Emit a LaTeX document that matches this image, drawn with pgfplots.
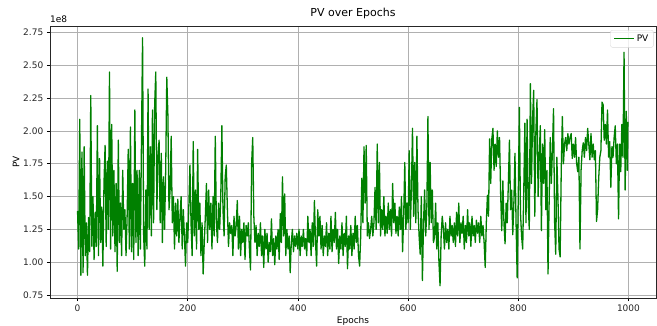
\documentclass[border=0pt]{standalone}
\usepackage{pgfplots}
\pgfplotsset{compat=1.18}
\usepackage{fontspec}
\setmainfont{DejaVu Sans}
\definecolor{mplgreen}{RGB}{0,128,0}
\definecolor{gridgray}{RGB}{176,176,176}
\begin{document}
\begin{tikzpicture}[x=1pt,y=1pt]
\useasboundingbox (-50pt,-28pt) rectangle (607pt,298pt);
\begin{axis}[
  at={(0pt,0pt)}, anchor=south west,
  scale only axis, width=606pt, height=272pt,
  xmin=-50, xmax=1050, ymin=0.727, ymax=2.80,
  xtick={0,200,400,600,800,1000},
  ytick={0.75,1.00,1.25,1.50,1.75,2.00,2.25,2.50,2.75},
  xticklabel style={/pgf/number format/.cd, 1000 sep={}},
  yticklabel style={/pgf/number format/.cd, fixed, fixed zerofill, precision=2},
  /pgf/number format/assume math mode=true,
  tick label style={font=\fontsize{9}{10}\selectfont, text=black!85},
  tick align=outside, tick pos=left,
  major tick length=3.2pt,
  every tick/.style={black, line width=0.7pt},
  axis line style={black!85, line width=0.7pt},
  grid=major,
  major grid style={gridgray, line width=0.7pt},
  title={PV over Epochs},
  title style={font=\fontsize{11}{12}\selectfont, yshift=-2pt},
  xlabel={Epochs}, ylabel={PV},
  label style={font=\fontsize{9}{10}\selectfont},
  xlabel style={yshift=2pt},
  ylabel style={yshift=-3pt},
  legend style={at={(rel axis cs:0.996,0.985)}, anchor=north east,
    draw=black!15, rounded corners=2pt, fill=white, fill opacity=0.8, text opacity=1,
    font=\fontsize{9}{10}\selectfont, inner xsep=3pt, inner ysep=2.5pt},
  legend cell align=left,
  legend image code/.code={\draw[#1] (0pt,0pt) -- (20pt,0pt);},
  clip mode=individual,
]
\addplot[mplgreen, line width=1.3pt, line join=round] coordinates {
(0,1.39) (2,1.10) (4,2.09) (6,0.90) (8,1.84) (10,0.92) (12,1.88) (14,1.05) (16,1.30) (18,0.90)
(20,1.34) (22,1.08) (24,2.27) (26,1.12) (28,1.50) (30,1.02) (32,1.38) (34,1.12) (36,2.04) (38,1.05)
(40,1.79) (42,1.15) (44,1.42) (46,0.97) (48,1.60) (50,1.89) (52,1.12) (54,1.77) (56,1.25) (58,2.45)
(60,1.10) (62,2.05) (64,1.20) (66,1.70) (68,1.08) (70,1.60) (72,0.93) (74,1.93) (76,1.15) (78,1.45)
(80,1.05) (82,1.70) (84,1.25) (86,1.40) (88,1.05) (90,1.35) (92,1.86) (94,1.10) (96,2.03) (98,1.08)
(100,1.60) (102,1.02) (104,2.16) (106,1.15) (108,1.70) (110,1.05) (112,1.70) (114,1.10) (116,1.90) (118,2.71)
(120,1.20) (122,0.97) (124,1.55) (126,1.10) (128,2.32) (130,1.25) (132,1.88) (134,1.20) (136,2.16) (138,1.30)
(140,2.20) (142,2.45) (144,1.40) (146,1.80) (148,1.93) (150,1.30) (152,1.83) (154,1.15) (156,1.65) (158,1.25)
(160,1.70) (162,2.41) (164,2.12) (166,1.40) (168,1.55) (170,1.96) (172,1.30) (174,1.50) (176,1.10) (178,1.45)
(180,1.20) (182,1.48) (184,1.15) (186,1.35) (188,1.50) (190,1.10) (192,1.40) (194,1.20) (196,0.97) (198,1.30)
(200,1.15) (202,1.42) (204,1.74) (206,1.30) (208,1.05) (210,1.92) (212,1.20) (214,1.55) (216,1.10) (218,1.86)
(220,1.25) (222,1.45) (224,1.05) (226,1.30) (228,0.91) (230,1.15) (232,1.35) (234,1.60) (236,1.15) (238,1.55)
(240,1.25) (242,1.45) (244,1.10) (246,1.50) (248,1.20) (250,1.96) (252,1.30) (254,1.15) (256,1.45) (258,1.25)
(260,1.50) (262,2.04) (264,1.40) (266,1.20) (268,1.65) (270,1.74) (272,1.40) (274,1.12) (276,1.30) (278,1.22)
(280,1.28) (282,1.05) (284,1.35) (286,1.20) (288,1.28) (290,1.47) (292,1.10) (294,1.35) (296,1.05) (298,1.25)
(300,1.15) (302,1.30) (304,1.02) (306,1.28) (308,1.20) (310,1.30) (312,1.10) (314,0.94) (316,1.75) (318,1.95)
(320,1.35) (322,1.15) (324,1.28) (326,1.05) (328,1.22) (330,1.12) (332,1.30) (334,1.05) (336,1.20) (338,0.96)
(340,1.25) (342,1.10) (344,1.22) (346,1.00) (348,1.15) (350,1.08) (352,1.33) (354,1.05) (356,1.18) (358,0.98)
(360,1.20) (362,1.10) (364,1.25) (366,1.02) (368,1.37) (370,1.15) (372,1.65) (374,1.20) (376,1.52) (378,1.05)
(380,1.25) (382,1.10) (384,1.20) (386,0.92) (388,1.15) (390,1.25) (392,1.08) (394,1.20) (396,1.12) (398,1.22)
(400,1.10) (402,1.25) (404,1.05) (406,1.20) (408,1.12) (410,1.25) (412,1.10) (414,1.18) (416,1.05) (418,1.35)
(420,1.15) (422,1.25) (424,1.05) (426,1.30) (428,1.12) (430,1.47) (432,1.15) (434,0.97) (436,1.40) (438,1.20)
(440,1.35) (442,1.10) (444,1.28) (446,1.05) (448,1.20) (450,1.12) (452,1.30) (454,1.05) (456,1.22) (458,1.10)
(460,1.35) (462,1.08) (464,1.25) (466,1.15) (468,1.38) (470,1.10) (472,1.25) (474,0.99) (476,1.20) (478,1.10)
(480,1.30) (482,1.05) (484,1.22) (486,1.12) (488,1.35) (490,0.95) (492,1.20) (494,1.10) (496,1.28) (498,1.05)
(500,1.22) (502,1.10) (504,1.35) (506,1.15) (508,1.28) (510,1.05) (512,0.97) (514,1.20) (516,1.64) (518,1.30)
(520,1.88) (522,1.45) (524,1.89) (526,1.20) (528,1.30) (530,1.18) (532,1.25) (534,1.35) (536,1.20) (538,1.30)
(540,1.57) (542,1.25) (544,1.90) (546,1.30) (548,1.76) (550,1.20) (552,1.40) (554,1.25) (556,1.50) (558,1.20)
(560,1.35) (562,1.22) (564,1.45) (566,1.25) (568,1.40) (570,1.20) (572,1.60) (574,1.30) (576,1.45) (578,1.22)
(580,1.35) (582,1.20) (584,1.42) (586,1.25) (588,1.50) (590,1.08) (592,1.35) (594,1.76) (596,1.25) (598,1.45)
(600,1.30) (602,1.85) (604,1.25) (606,1.55) (608,2.02) (610,1.35) (612,1.76) (614,1.30) (616,1.96) (618,1.40)
(620,1.20) (622,1.06) (624,1.50) (626,0.86) (628,1.30) (630,1.55) (632,1.20) (634,1.40) (636,2.11) (638,1.25)
(640,1.76) (642,1.30) (644,1.55) (646,1.15) (648,1.19) (650,1.45) (652,1.10) (654,1.30) (656,1.00) (658,0.82)
(660,1.20) (662,1.35) (664,1.26) (666,1.10) (668,1.30) (670,1.15) (672,1.25) (674,1.10) (676,1.35) (678,1.20)
(680,1.28) (682,1.15) (684,1.30) (686,1.12) (688,1.38) (690,1.20) (692,1.45) (694,1.15) (696,1.30) (698,1.22)
(700,1.35) (702,1.10) (704,1.28) (706,1.15) (708,1.40) (710,1.20) (712,1.30) (714,1.12) (716,1.35) (718,1.20)
(720,1.28) (722,1.15) (724,1.32) (726,1.22) (728,1.30) (730,1.15) (732,1.35) (734,1.20) (736,1.28) (738,1.15)
(740,0.96) (742,1.30) (744,1.51) (746,1.35) (748,1.94) (750,1.60) (752,1.94) (754,2.02) (756,1.70) (758,1.90)
(760,1.73) (762,2.00) (764,1.80) (766,1.95) (768,1.52) (770,1.24) (772,1.62) (774,1.30) (776,1.14) (778,1.45)
(780,1.30) (782,1.60) (784,1.93) (786,1.40) (788,1.55) (790,1.21) (792,1.45) (794,1.83) (796,1.30) (798,0.88)
(800,1.50) (802,2.18) (804,1.38) (806,1.20) (808,1.10) (810,1.55) (812,2.06) (814,1.30) (816,2.09) (818,1.45)
(820,1.25) (822,2.36) (824,1.60) (826,2.10) (828,2.31) (830,1.35) (832,2.00) (834,2.24) (836,1.50) (838,1.80)
(840,2.04) (842,1.24) (844,1.90) (846,1.60) (848,2.01) (850,1.40) (852,1.70) (854,0.91) (856,1.45) (858,1.95)
(860,1.60) (862,1.85) (864,2.17) (866,1.30) (868,1.06) (870,1.80) (872,1.50) (874,1.10) (876,1.04) (878,1.70)
(880,2.11) (882,1.75) (884,1.90) (886,1.95) (888,1.85) (890,1.98) (892,1.90) (894,1.95) (896,1.98) (898,1.79)
(900,1.90) (902,1.80) (904,1.95) (906,1.75) (908,1.69) (910,1.80) (912,1.10) (914,1.70) (916,1.85) (918,1.91)
(920,1.80) (922,1.95) (924,1.85) (926,2.02) (928,1.90) (930,1.78) (932,1.98) (934,1.80) (936,1.90) (938,1.78)
(940,1.85) (942,1.31) (944,1.40) (946,1.64) (948,1.80) (950,1.85) (952,2.22) (954,2.20) (956,1.93) (958,2.05)
(960,1.90) (962,2.16) (964,1.80) (966,1.92) (968,1.57) (970,1.88) (972,1.80) (974,1.95) (976,2.04) (978,1.75)
(980,1.90) (982,1.33) (984,1.90) (986,1.69) (988,2.05) (990,1.80) (992,2.60) (994,1.55) (996,2.15) (998,1.70)
(999,2.07)
};
\addlegendentry{PV}
\node[anchor=south west, font=\fontsize{9}{10}\selectfont, inner sep=0pt, yshift=3pt] at (rel axis cs:0,1) {1e8};
\end{axis}
\end{tikzpicture}
\end{document}
